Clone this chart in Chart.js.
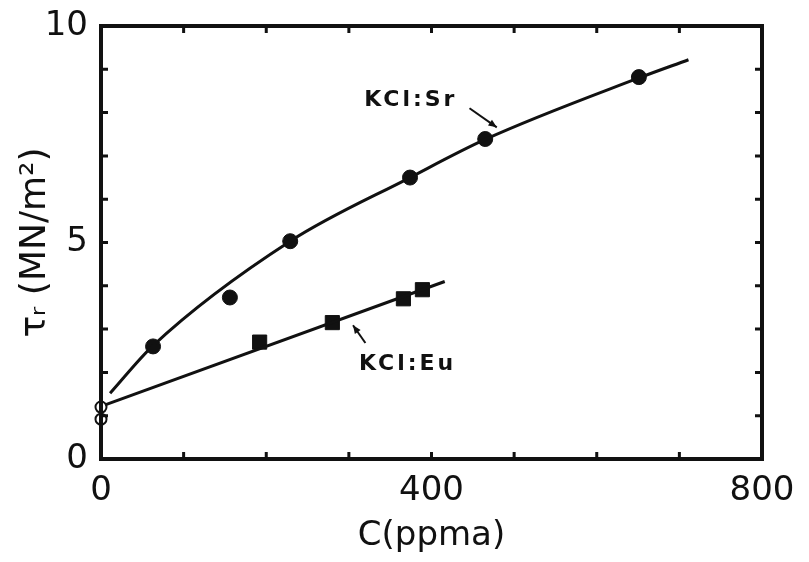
<!DOCTYPE html>
<html>
<head>
<meta charset="utf-8">
<script src="https://cdn.jsdelivr.net/npm/chart.js@4.4.1/dist/chart.umd.min.js"></script>
<style>
  html, body { margin: 0; padding: 0; background: #fff; }
  #chart { display: block; }
</style>
</head>
<body>
<canvas id="chart" width="809" height="562"></canvas>
<script>
// resolved shear stress vs. dopant concentration
const srConc = [63, 156, 229, 374, 465, 651];
const srTau = [2.60, 3.73, 5.03, 6.50, 7.39, 8.82];
const srFitConc = [11, 63, 229, 374, 465, 651, 711];
const srFitTau = [1.52, 2.62, 5.03, 6.50, 7.38, 8.80, 9.22];

const euConc = [192, 280, 366, 389];
const euTau = [2.70, 3.15, 3.70, 3.91];
const euFitConc = [5, 416];
const euFitTau = [1.25, 4.10];

// undoped crystals
const pureConc = [0, 0];
const pureTau = [1.20, 0.92];

const xLabels = [0, 400, 800];
const yLabels = [0, 5, 10];

// curve labels with their arrows, in data units
const notes = [
  { text: "KCl:Sr", x: 375, y: 8.29, from: [446, 8.1], to: [479, 7.66] },
  { text: "KCl:Eu", x: 371, y: 2.19, from: [320, 2.68], to: [305, 3.09] }
];

const ink = "#111";
const pts = (xs, ys) => xs.map((x, i) => ({ x: x, y: ys[i] }));

// boxed frame with inward ticks on all four sides, plus the curve labels
const framePlugin = {
  id: "frame",
  afterDatasetsDraw(chart) {
    const { ctx, chartArea: a, scales: { x, y } } = chart;
    ctx.save();
    ctx.strokeStyle = ink;
    ctx.lineWidth = 4;
    ctx.strokeRect(a.left, a.top, a.right - a.left, a.bottom - a.top);
    ctx.lineWidth = 3;
    ctx.beginPath();
    for (let v = 100; v < 800; v += 100) {
      const px = x.getPixelForValue(v);
      ctx.moveTo(px, a.bottom); ctx.lineTo(px, a.bottom - 7);
      ctx.moveTo(px, a.top); ctx.lineTo(px, a.top + 7);
    }
    for (let v = 1; v < 10; v++) {
      const py = y.getPixelForValue(v);
      ctx.moveTo(a.left, py); ctx.lineTo(a.left + 7, py);
      ctx.moveTo(a.right, py); ctx.lineTo(a.right - 7, py);
    }
    ctx.stroke();

    ctx.fillStyle = ink;
    ctx.font = "bold 22px 'DejaVu Sans'";
    ctx.letterSpacing = "3px";
    ctx.textAlign = "center";
    ctx.textBaseline = "middle";
    notes.forEach(n => {
      ctx.fillText(n.text, x.getPixelForValue(n.x), y.getPixelForValue(n.y));
      const x0 = x.getPixelForValue(n.from[0]), y0 = y.getPixelForValue(n.from[1]);
      const x1 = x.getPixelForValue(n.to[0]), y1 = y.getPixelForValue(n.to[1]);
      ctx.lineWidth = 2;
      ctx.beginPath();
      ctx.moveTo(x0, y0); ctx.lineTo(x1, y1);
      ctx.stroke();
      const ang = Math.atan2(y1 - y0, x1 - x0);
      ctx.beginPath();
      ctx.moveTo(x1, y1);
      ctx.lineTo(x1 - 9 * Math.cos(ang - 0.4), y1 - 9 * Math.sin(ang - 0.4));
      ctx.lineTo(x1 - 9 * Math.cos(ang + 0.4), y1 - 9 * Math.sin(ang + 0.4));
      ctx.closePath();
      ctx.fill();
    });
    ctx.restore();
  }
};

new Chart(document.getElementById("chart"), {
  type: "scatter",
  data: {
    datasets: [
      {
        data: pts(srFitConc, srFitTau),
        showLine: true,
        cubicInterpolationMode: "monotone",
        borderColor: ink,
        borderWidth: 3,
        pointRadius: 0
      },
      {
        data: pts(euFitConc, euFitTau),
        showLine: true,
        borderColor: ink,
        borderWidth: 3,
        pointRadius: 0
      },
      {
        data: pts(srConc, srTau),
        pointStyle: "circle",
        pointRadius: 7.5,
        backgroundColor: ink,
        borderColor: ink
      },
      {
        data: pts(euConc, euTau),
        pointStyle: "rect",
        pointRadius: 10,
        backgroundColor: ink,
        borderColor: ink
      },
      {
        data: pts(pureConc, pureTau),
        pointStyle: "circle",
        pointRadius: 5.5,
        backgroundColor: "#fff",
        borderColor: ink,
        borderWidth: 2,
        clip: false
      }
    ]
  },
  options: {
    responsive: false,
    animation: false,
    layout: { padding: { top: 26, right: 47, left: 0, bottom: 0 } },
    plugins: { legend: { display: false }, tooltip: { enabled: false } },
    scales: {
      x: {
        type: "linear",
        min: 0,
        max: 800,
        afterFit: s => { s.height = 103; s.paddingLeft = 0; s.paddingRight = 0; },
        grid: { display: false, drawTicks: false },
        border: { display: false },
        ticks: {
          stepSize: 100,
          autoSkip: false,
          maxRotation: 0,
          padding: 12,
          color: ink,
          font: { family: "DejaVu Sans", size: 34 },
          callback: v => xLabels.includes(v) ? String(v) : ""
        },
        title: {
          display: true,
          text: "C(ppma)",
          color: ink,
          font: { family: "DejaVu Sans", size: 34 },
          padding: { top: 0, bottom: 5 }
        }
      },
      y: {
        type: "linear",
        min: 0,
        max: 10,
        afterFit: s => { s.width = 101; s.paddingTop = 0; s.paddingBottom = 0; },
        grid: { display: false, drawTicks: false },
        border: { display: false },
        ticks: {
          stepSize: 1,
          autoSkip: false,
          padding: 13,
          color: ink,
          font: { family: "DejaVu Sans", size: 34 },
          callback: v => yLabels.includes(v) ? String(v) : ""
        },
        title: {
          display: true,
          text: "τᵣ (MN/m²)",
          color: ink,
          font: { family: "DejaVu Sans", size: 36 },
          padding: { top: 14, bottom: 0 }
        }
      }
    }
  },
  plugins: [framePlugin]
});
</script>
</body>
</html>
